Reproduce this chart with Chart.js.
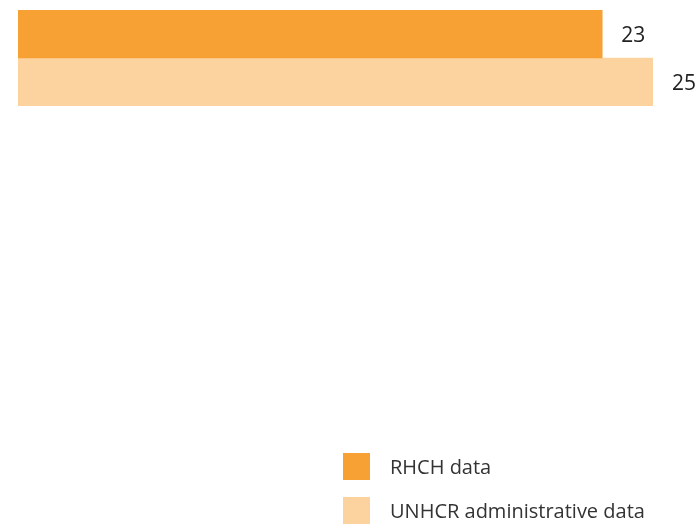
<!DOCTYPE html>
<html>
<head>
<meta charset="utf-8">
<script src="https://cdn.jsdelivr.net/npm/chart.js@4"></script>
<style>
  body { margin: 0; background: #fff; }
  .wrap { position: relative; width: 700px; height: 524px; }
  .legend { position: absolute; left: 343px; top: 453px; font-family: "Open Sans", sans-serif; font-size: 20px; color: #333; }
  .legend-item { display: flex; align-items: center; height: 27px; margin-bottom: 17px; white-space: nowrap; }
  .legend-box { width: 27px; height: 27px; margin-right: 20px; }
</style>
</head>
<body>
<div class="wrap">
  <canvas id="bar-chart" width="700" height="524"></canvas>
  <div class="legend" id="legend"></div>
</div>
<script>
const categories = ["Total"];
const seriesNames = ["RHCH data", "UNHCR administrative data"];
const rhchValues = [23];
const unhcrValues = [25];
const seriesColors = ["#F7A033", "#FCD29E"];

const ctx = document.getElementById("bar-chart");

// draws the number just past the end of each bar
const valueLabels = {
  id: "valueLabels",
  afterDatasetsDraw(chart) {
    const c = chart.ctx;
    c.save();
    c.font = "21px 'Open Sans', sans-serif";
    c.fillStyle = "#222";
    c.textAlign = "center";
    c.textBaseline = "middle";
    chart.data.datasets.forEach((ds, i) => {
      chart.getDatasetMeta(i).data.forEach((bar, j) => {
        c.fillText(ds.data[j], bar.x + 31, bar.y + 2);
      });
    });
    c.restore();
  },
};

new Chart(ctx, {
  type: "bar",
  data: {
    labels: categories,
    datasets: [
      { label: seriesNames[0], data: rhchValues, backgroundColor: seriesColors[0] },
      { label: seriesNames[1], data: unhcrValues, backgroundColor: seriesColors[1] },
    ],
  },
  options: {
    indexAxis: "y",
    responsive: false,
    animation: false,
    layout: { padding: { left: 18, right: 47, top: 10, bottom: 418 } },
    datasets: { bar: { barPercentage: 1, categoryPercentage: 1 } },
    scales: {
      x: { display: false, min: 0, max: 25 },
      y: { display: false },
    },
    plugins: {
      legend: { display: false },
      tooltip: { enabled: false },
    },
  },
  plugins: [valueLabels],
});

// legend
const legend = document.getElementById("legend");
seriesNames.forEach((name, i) => {
  const item = document.createElement("div");
  item.className = "legend-item";
  item.innerHTML = '<span class="legend-box" style="background:' + seriesColors[i] + '"></span>' + name;
  legend.appendChild(item);
});
</script>
</body>
</html>
